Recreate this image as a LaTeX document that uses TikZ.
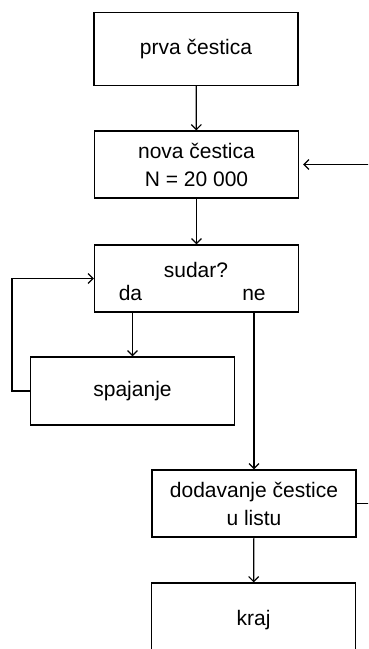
\documentclass[tikz,border=0pt]{standalone}
\usepackage{fontspec}
\setmainfont{Liberation Sans}
\usetikzlibrary{arrows.meta}
\begin{document}
\begin{tikzpicture}[x=1pt, y=-1pt, line width=1.2pt,
  korak/.style={draw, rectangle, minimum width=204pt, minimum height=68pt, align=center, font=\fontsize{21}{28}\selectfont, inner sep=0pt},
  natpis/.style={font=\fontsize{21}{28}\selectfont, inner sep=0pt},
  strel/.style={-{Straight Barb[length=5pt, width=10pt]}}]
  \useasboundingbox (0,0) rectangle (368,649);
  \clip (0,0) rectangle (368,649);
  \fill[white] (0,0) rectangle (368,649);

  \node[korak, minimum height=73pt] (prva) at (196,49) {prva čestica};
  \node[korak, minimum height=67pt] (nova) at (196.5,164.5) {nova čestica\\N = 20 000};
  \node[korak, minimum height=67pt] (sudar) at (196.5,278.5) {};
  \node[natpis] (pitanje) at (196,270) {sudar?};
  \node[natpis] (da) at (130.5,293) {da};
  \node[natpis] (ne) at (254,295) {ne};
  \node[korak] (spajanje) at (132.5,391) {spajanje};
  \node[korak, minimum height=67pt] (dodavanje) at (254,503.5) {dodavanje čestice\\u listu};
  \node[korak, minimum height=74pt] (kraj) at (253.5,620) {kraj};

  \coordinate (desno) at (385,503.5);
  \coordinate (lijevo) at (12,391);

  \draw[strel] (prva) -- (nova);
  \draw[strel] (nova) -- (sudar);
  \draw[strel] (spajanje.north |- sudar.south) -- (spajanje.north);
  \draw[strel] (spajanje.west) -- (lijevo) |- (sudar.west);
  \draw[strel] (dodavanje.north |- sudar.south) -- (dodavanje.north);
  \draw[strel, shorten >=4pt] (dodavanje.east) -- (desno) |- (nova.east);
  \draw[strel] (dodavanje) -- (kraj);
\end{tikzpicture}
\end{document}
